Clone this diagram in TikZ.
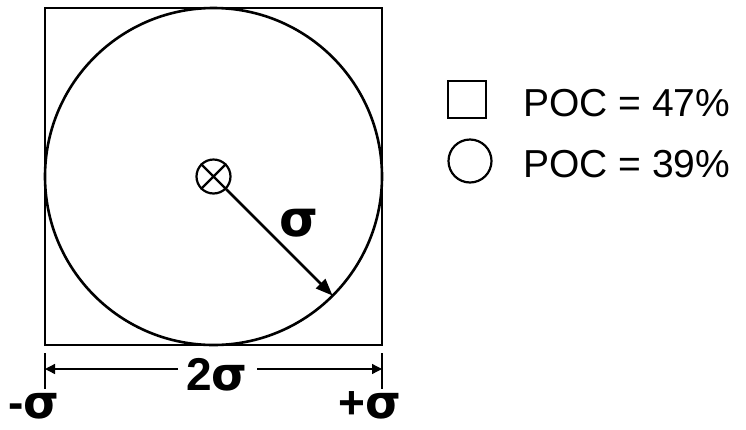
\documentclass[tikz,border=0pt]{standalone}
\usepackage{fontspec}
\setmainfont{Liberation Sans}
\newfontfamily\sigfont{DejaVu Sans}
\usetikzlibrary{arrows.meta,calc}
\newcommand{\sg}{{\sigfont\bfseries σ}}
\begin{document}
\begin{tikzpicture}[x=1pt,y=-1pt,
  thick line/.style={line width=2.6pt},
  dim line/.style={line width=1.3pt},
  big tip/.style={-{Triangle[length=17pt,width=13pt]}},
  dim tip/.style={-{Triangle[length=10pt,width=10pt]}},
  sig/.style={inner sep=0pt,font=\fontsize{46}{46}\selectfont\bfseries},
  leg/.style={inner sep=0pt,anchor=base west,font=\fontsize{39}{39}\selectfont}]
\useasboundingbox (0,0) rectangle (746,429);
% main square and circle
\draw[thick line] (45,8) rectangle (382,345);
\coordinate (c) at (213.5,176.5);
\draw[thick line] (c) circle[radius=168.5];
% center marker
\node[draw,circle,line width=2.2pt,minimum size=34pt,inner sep=0pt] (m) at (c) {};
\draw[line width=2.2pt] (m.north west) -- (m.south east) (m.north east) -- (m.south west);
\coordinate (rim) at (332.6,295.6);
\draw[thick line,big tip] (m.south east) -- (rim);
\node[sig,font=\fontsize{50}{50}\selectfont] (s) at (299,223) {\sg};
% dimension
\coordinate (L) at (45,369);
\coordinate (R) at (382,369);
\draw[dim line] (45,353) coordinate (lt1) -- (45,389) coordinate (lb1);
\draw[dim line] (382,353) coordinate (rt1) -- (382,389) coordinate (rb1);
\node[sig,anchor=base] (two) at (217,390) {2\sg};
\coordinate (dl) at (178,369);
\coordinate (dr) at (257,369);
\draw[dim line,dim tip] (dl) -- (L);
\draw[dim line,dim tip] (dr) -- (R);
\node[sig,anchor=base,text depth=0pt] (ms) at (34,418) {-\sg};
\node[sig,anchor=base,text depth=0pt] (ps) at (370,418) {+\sg};
% legend
\draw[line width=2.2pt] (448,81) rectangle (486,118);
\draw[line width=2.2pt] (470,161) circle[radius=21.5];
\node[leg] (t1) at (523,116) {POC = 47\%};
\node[leg] (t2) at (523,177) {POC = 39\%};
\end{tikzpicture}
\end{document}
